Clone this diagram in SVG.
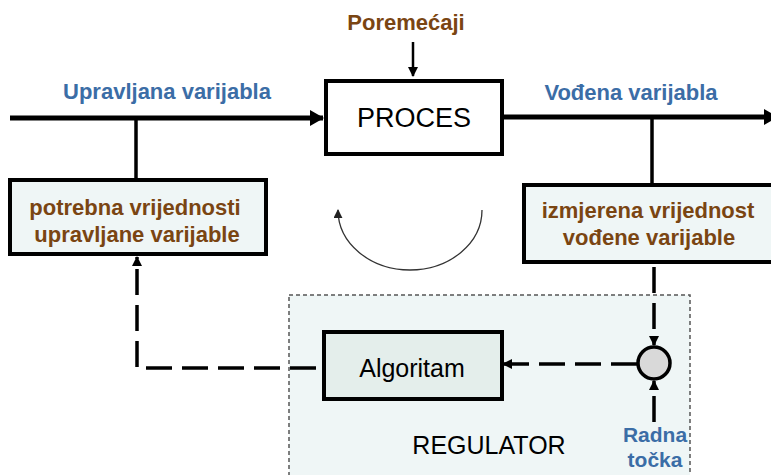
<svg xmlns="http://www.w3.org/2000/svg" width="771" height="475" viewBox="0 0 771 475">
<defs>
<style>
.lbl{font-family:"Liberation Sans",Arial,sans-serif;font-weight:bold;font-size:22px}
.brown{fill:#7a4512}
.blue{fill:#3b6da6}
.norm{font-family:"Liberation Sans",Arial,sans-serif;fill:#000}
.box{stroke:#000;stroke-width:4}
.dash{fill:none;stroke:#000;stroke-width:3.5;stroke-dasharray:26 10}
.solid{fill:none;stroke:#000}
</style>
<marker id="bigHead" viewBox="0 0 14 16" refX="13" refY="8" markerWidth="14" markerHeight="16" markerUnits="userSpaceOnUse" orient="auto">
<path d="M0,0 L14,8 L0,16 z" fill="#000"/>
</marker>
<marker id="smHead" viewBox="0 0 10 10" refX="9" refY="5" markerWidth="10" markerHeight="10" markerUnits="userSpaceOnUse" orient="auto">
<path d="M0,0 L10,5 L0,10 z" fill="#000"/>
</marker>
<marker id="arcHead" viewBox="0 0 10 10" refX="9" refY="5" markerWidth="9" markerHeight="9" markerUnits="userSpaceOnUse" orient="auto">
<path d="M0,0 L10,5 L0,10 z" fill="#222"/>
</marker>
</defs>
<rect width="771" height="475" fill="#fff"/>

<g id="regulator">
<rect x="289" y="295" width="401" height="190" fill="#eff6f6" stroke="#555" stroke-width="1.5" stroke-dasharray="4 3"/>
<text class="norm" x="489" y="454" font-size="25" text-anchor="middle">REGULATOR</text>
</g>

<g id="connectors">
<line x1="10" y1="118" x2="323" y2="118" stroke="#000" stroke-width="5" marker-end="url(#bigHead)"/>
<line x1="502" y1="117" x2="777" y2="117" stroke="#000" stroke-width="5" marker-end="url(#bigHead)"/>
<line x1="413" y1="42" x2="413" y2="76" stroke="#000" stroke-width="2.5" marker-end="url(#smHead)"/>
<line class="solid" x1="136" y1="118" x2="136" y2="180" stroke-width="3.5"/>
<line class="solid" x1="652" y1="117" x2="652" y2="185" stroke-width="3.5"/>
<path d="M482,210 A72,60 0 0 1 338,210" fill="none" stroke="#333" stroke-width="1.3" marker-end="url(#arcHead)"/>
<path class="dash" d="M654,267 L654,345" marker-end="url(#smHead)"/>
<path class="dash" d="M637,364 L503,364" marker-end="url(#smHead)"/>
<path class="dash" d="M316,368 L137,368 L137,257" marker-end="url(#smHead)" stroke-dasharray="26 10" stroke-dashoffset="0"/>
<path class="dash" d="M654,422 L654,381" marker-end="url(#smHead)" stroke-dasharray="14 8"/>
</g>

<g id="label-poremecaji">
<text class="lbl brown" x="406" y="30" text-anchor="middle">Poremećaji</text>
</g>
<g id="label-upravljana">
<text class="lbl blue" x="167" y="99" text-anchor="middle">Upravljana varijabla</text>
</g>
<g id="label-vodena">
<text class="lbl blue" x="631" y="100" text-anchor="middle">Vođena varijabla</text>
</g>

<g id="proces">
<rect class="box" x="326" y="81" width="176" height="73" fill="#fff"/>
<text class="norm" x="414" y="127" font-size="27" text-anchor="middle">PROCES</text>
</g>

<g id="potrebna">
<rect class="box" x="10" y="180" width="256" height="74" fill="#eff6f6"/>
<text class="lbl brown" x="135" y="215" text-anchor="middle">potrebna vrijednosti</text>
<text class="lbl brown" x="137" y="242" text-anchor="middle">upravljane varijable</text>
</g>

<g id="izmjerena">
<rect class="box" x="524" y="185" width="260" height="77" fill="#eff6f6"/>
<text class="lbl brown" x="648" y="218" text-anchor="middle">izmjerena vrijednost</text>
<text class="lbl brown" x="649" y="245" text-anchor="middle">vođene varijable</text>
</g>

<g id="algoritam">
<rect class="box" x="324" y="332" width="178" height="67" fill="#e4eeeb"/>
<text class="norm" x="412" y="377" font-size="25" text-anchor="middle">Algoritam</text>
</g>

<g id="komparator">
<circle cx="654" cy="363" r="16" fill="#d9d9d9" stroke="#000" stroke-width="3.5"/>
</g>

<g id="label-radna">
<text class="lbl blue" x="655" y="442" font-size="21" text-anchor="middle" style="font-size:21px">Radna</text>
<text class="lbl blue" x="655" y="467" text-anchor="middle" style="font-size:21px">točka</text>
</g>
</svg>
